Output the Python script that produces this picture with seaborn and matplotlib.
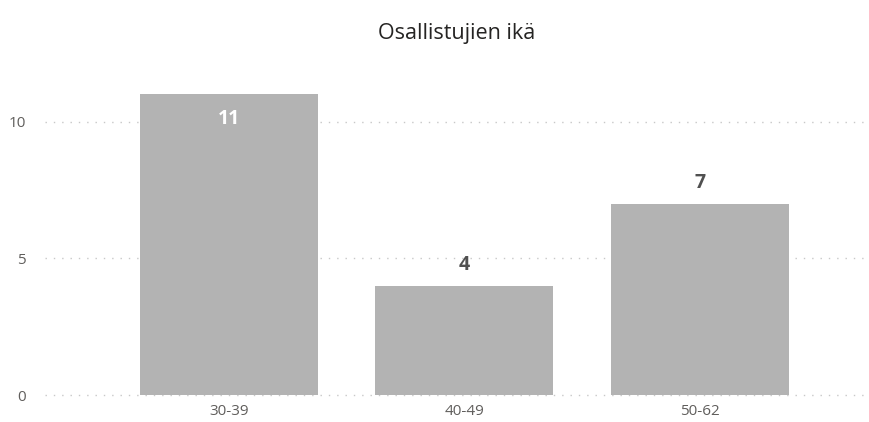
import pandas as pd
import seaborn as sns
import matplotlib.pyplot as plt

# age groups of participants
age_groups = ["30-39", "40-49", "50-62"]
counts = [11, 4, 7]

df = pd.DataFrame({"group": age_groups, "count": counts})

sns.set_theme(style="white")
plt.rcParams['font.family'] = ['Open Sans', 'DejaVu Sans']

fig = plt.figure(figsize=(8.69, 4.22), dpi=100)
ax = fig.add_axes([45/869, 1 - 397/422, 820/869, 322/422])

sns.barplot(data=df, x="group", y="count", color="#B3B3B3", saturation=1,
            width=0.756, linewidth=0, ax=ax)

ax.set_xlim(-0.78, 2.70)
ax.set_ylim(-0.07, 11.7)
ax.set_yticks([0, 5, 10])
ax.yaxis.grid(True, linestyle=(0, (1, 5)), color="#C8C8C8", linewidth=1)
ax.set_axisbelow(True)
sns.despine(ax=ax, left=True, bottom=True)

ax.set_xlabel("")
ax.set_ylabel("")
ax.tick_params(axis="both", length=0, labelsize=11, colors="#605E5C")
ax.tick_params(axis="y", pad=14)
ax.tick_params(axis="x", pad=5)

for i, v in enumerate(counts):
    if v > 9:
        ax.text(i, v - 0.9, str(v), ha="center", va="center",
                fontsize=14, fontweight="bold", color="white")
    else:
        ax.text(i, v + 0.75, str(v), ha="center", va="center",
                fontsize=14, fontweight="bold", color="#505050")

fig.text(457/869, 1 - 33/422, "Osallistujien ikä", ha="center", va="center",
         fontsize=15.5, color="#252423")

plt.savefig("out.png", dpi=100)
